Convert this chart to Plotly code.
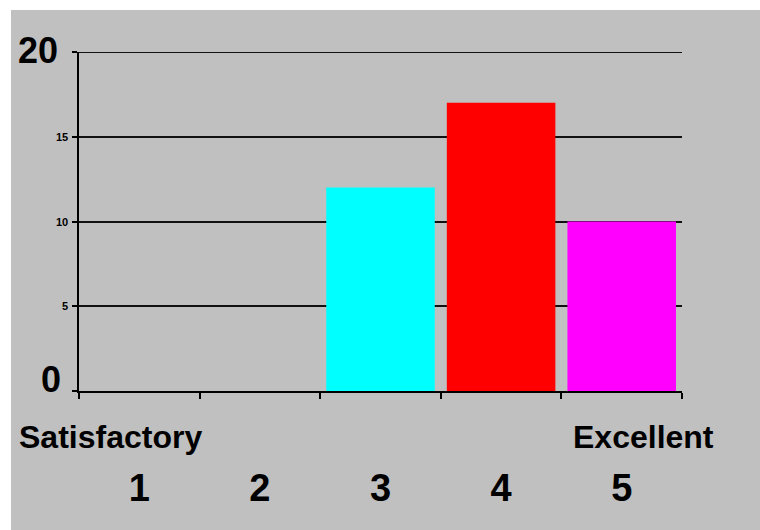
import plotly.graph_objects as go

# ---- data ----
categories = ["1", "2", "3", "4", "5"]
values = [0, 0, 12, 17, 10]
bar_colors = ["#00FFFF", "#00FFFF", "#00FFFF", "#FF0000", "#FF00FF"]
y_tick_vals = [0, 5, 10, 15, 20]
y_tick_labels = ["0", "5", "10", "15", "20"]
scale_end_labels = ["Satisfactory", "Excellent"]

# ---- layout geometry (pixels) ----
W, H = 760, 530
L, R, T, B = 79, 78, 52, 139
plot_w = W - L - R
plot_h = H - T - B
FONT = "Arial, 'Liberation Sans', sans-serif"

fig = go.Figure(
    go.Bar(
        x=categories,
        y=values,
        marker=dict(color=bar_colors, line=dict(width=0)),
        hoverinfo="skip",
    )
)

# y tick labels as annotations (mixed sizes as in the original)
y_label_style = {
    "0": dict(size=36, xshift=-16, yshift=12),
    "20": dict(size=36, xshift=-19, yshift=2),
}
annotations = []
for v, lab in zip(y_tick_vals, y_tick_labels):
    st = y_label_style.get(lab, dict(size=11, xshift=-9, yshift=0))
    annotations.append(dict(
        x=0, xref="paper", y=v, yref="y",
        text=f"<b>{lab}</b>", showarrow=False,
        xanchor="right", yanchor="middle",
        xshift=st["xshift"], yshift=st["yshift"],
        font=dict(family=FONT, size=st["size"], color="black"),
    ))

# scale end captions
annotations.append(dict(
    x=0, xref="paper", y=0, yref="paper",
    text=f"<b>{scale_end_labels[0]}</b>", showarrow=False,
    xanchor="left", yanchor="middle", xshift=-62, yshift=-46,
    font=dict(family=FONT, size=32, color="black"),
))
annotations.append(dict(
    x=1, xref="paper", y=0, yref="paper",
    text=f"<b>{scale_end_labels[1]}</b>", showarrow=False,
    xanchor="left", yanchor="middle", xshift=-111, yshift=-46,
    font=dict(family=FONT, size=32, color="black"),
))

# gray panel with white strip at top/left, plus the top grid line
shapes = [
    dict(
        type="rect", xref="paper", yref="paper", layer="below",
        x0=(11 - L) / plot_w, x1=(W + 20 - L) / plot_w,
        y0=(T + plot_h - (H + 20)) / plot_h, y1=(T + plot_h - 10) / plot_h,
        fillcolor="#C0C0C0", line=dict(width=0),
    ),
    dict(
        type="line", xref="paper", yref="y", layer="below",
        x0=0, x1=1, y0=max(y_tick_vals), y1=max(y_tick_vals),
        line=dict(color="#111111", width=2),
    ),
]

fig.update_layout(
    width=W, height=H,
    margin=dict(l=L, r=R, t=T, b=B, pad=0),
    paper_bgcolor="white",
    plot_bgcolor="rgba(0,0,0,0)",
    bargap=0.1,
    showlegend=False,
    annotations=annotations,
    shapes=shapes,
    font=dict(family=FONT, color="black"),
)

fig.update_xaxes(
    type="category",
    categoryorder="array", categoryarray=categories,
    tickmode="array", tickvals=categories,
    ticktext=[f"<b>{c}</b>" for c in categories],
    tickson="boundaries",
    ticks="outside", ticklen=6, tickwidth=1.5, tickcolor="black",
    showline=True, linecolor="black", linewidth=2,
    showgrid=False, zeroline=False,
    tickfont=dict(family=FONT, size=38, color="black"),
    ticklabelstandoff=62,
    fixedrange=True,
)

fig.update_yaxes(
    range=[0, 20],
    tickmode="array", tickvals=y_tick_vals,
    ticktext=["" for _ in y_tick_vals],
    ticks="outside", ticklen=5, tickwidth=1.5, tickcolor="black",
    showline=True, linecolor="black", linewidth=2,
    showgrid=True, gridcolor="#111111", gridwidth=2,
    zeroline=False,
    fixedrange=True,
)

fig.write_html("out.html")
